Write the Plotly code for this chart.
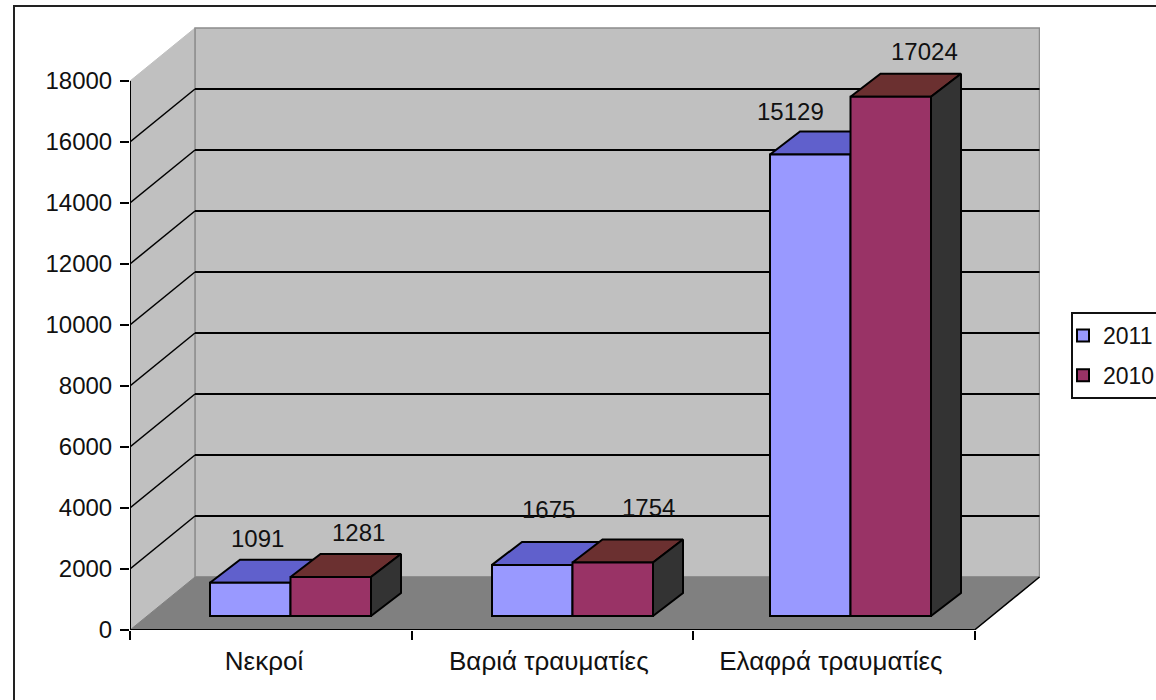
import plotly.graph_objects as go

categories = ["Νεκροί", "Βαριά τραυματίες", "Ελαφρά τραυματίες"]
series_2011 = [1091, 1675, 15129]
series_2010 = [1281, 1754, 17024]
y_ticks = [0, 2000, 4000, 6000, 8000, 10000, 12000, 14000, 16000, 18000]

# geometry of the pseudo-3D box, in pixels
L, R, T, B = 130, 1040, 27, 630
PX_CAT = 281.5
PX_VAL = 549 / 18000
xmax = (R - L) / PX_CAT
ymax = (B - T) / PX_VAL
wall_dx, wall_dy = 65 / PX_CAT, 53 / PX_VAL
bar_dx, bar_dy = 30 / PX_CAT, 23 / PX_VAL
bar_w = 80.5 / PX_CAT
bar_left = [80 / PX_CAT, 80.5 / PX_CAT, 77 / PX_CAT]
bar_base = 14 / PX_VAL
n = len(categories)
BLACK = "#000000"

shapes = []
def poly(xs, ys, fill, line=None, w=1):
    path = "M" + "L".join(f"{x},{y}" for x, y in zip(xs, ys)) + "Z"
    shapes.append(dict(type="path", path=path, xref="x", yref="y", fillcolor=fill, layer="below",
                       line=dict(color=line or fill, width=w)))
def seg(x0, y0, x1, y1, color=BLACK, w=2):
    shapes.append(dict(type="line", x0=x0, y0=y0, x1=x1, y1=y1, xref="x", yref="y", layer="below",
                       line=dict(color=color, width=w)))

top = y_ticks[-1]
poly([wall_dx, n + wall_dx, n + wall_dx, wall_dx], [wall_dy, wall_dy, top + wall_dy, top + wall_dy], "#C0C0C0", "#8C8C8C", 1.5)
poly([0, wall_dx, wall_dx, 0], [0, wall_dy, top + wall_dy, top], "#C0C0C0", "#C0C0C0", 1)
seg(wall_dx, wall_dy, wall_dx, top + wall_dy, "#8C8C8C", 1.5)
poly([0, n, n + wall_dx, wall_dx], [0, 0, wall_dy, wall_dy], "#808080")
for v in y_ticks[1:-1]:
    seg(0, v, wall_dx, v + wall_dy, BLACK, 1.5)
    seg(wall_dx, v + wall_dy, n + wall_dx, v + wall_dy, BLACK, 2)
seg(0, 0, 0, top)
seg(0, 0, n, 0)
seg(n, 0, n + wall_dx, wall_dy, BLACK, 1.5)

def faces(left, values):
    tx, ty, sx, sy = [], [], [], []
    for x, v in zip(left, values):
        t = bar_base + v
        tx += [x, x + bar_w, x + bar_w + bar_dx, x + bar_dx, x, None]
        ty += [t, t, t + bar_dy, t + bar_dy, t, None]
        r = x + bar_w
        sx += [r, r + bar_dx, r + bar_dx, r, r, None]
        sy += [bar_base, bar_base + bar_dy, t + bar_dy, t, bar_base, None]
    return tx, ty, sx, sy

fig = go.Figure()
series = [("2011", series_2011, "#9999FF", "#6060CC", 0.0, 1),
          ("2010", series_2010, "#993366", "#6B3030", bar_w, 3)]
for name, vals, front, topc, shift, z in series:
    left = [i + bar_left[i] + shift for i in range(n)]
    tx, ty, sx, sy = faces(left, vals)
    fig.add_trace(go.Scatter(x=tx, y=ty, fill="toself", fillcolor=topc, mode="lines", zorder=z,
                             line=dict(color=BLACK, width=2), showlegend=False, hoverinfo="skip"))
    fig.add_trace(go.Scatter(x=sx, y=sy, fill="toself", fillcolor="#333333", mode="lines", zorder=z,
                             line=dict(color=BLACK, width=2), showlegend=False, hoverinfo="skip"))
    fig.add_trace(go.Bar(name=name, x=left, y=vals, base=bar_base, width=bar_w, offset=0, zorder=z + 1,
                         legendgroup=name, marker=dict(color=front, line=dict(color=BLACK, width=2))))

# data labels, with hand offsets (px) from the back-centre of each bar top
offs_2011 = [(-23, 21), (-13.5, 32), (-50, 20)]
offs_2010 = [(-2, 21), (5.5, 32), (4, 22)]
ann = []
for (name, vals, front, topc, shift, z), offs in zip(series, (offs_2011, offs_2010)):
    for i, v in enumerate(vals):
        ann.append(dict(x=i + bar_left[i] + shift + bar_w / 2 + bar_dx, y=bar_base + v + bar_dy, text=str(v),
                        showarrow=False, xanchor="center", yanchor="middle",
                        xshift=offs[i][0], yshift=offs[i][1], font=dict(size=24, color="#111111")))

# frame and legend box, pixel-based paper refs
W, H = 1156, 700
pw, ph = R - L, B - T
def px(v): return (v - L) / pw
def py(v): return (B - v) / ph
shapes.append(dict(type="rect", xref="paper", yref="paper", x0=px(14), x1=px(1175), y0=py(6), y1=py(720),
                   line=dict(color="#222222", width=2), layer="below"))
shapes.append(dict(type="rect", xref="paper", yref="paper", x0=px(1072), x1=px(1175), y0=py(313), y1=py(398),
                   line=dict(color="#111111", width=2), layer="above"))

fig.update_layout(
    width=W, height=H, margin=dict(l=L, r=W - R, t=T, b=H - B, pad=0, autoexpand=False),
    paper_bgcolor="white", plot_bgcolor="rgba(0,0,0,0)", barmode="overlay",
    font=dict(family="Liberation Sans", size=24, color="#111111"),
    shapes=shapes, annotations=ann,
    legend=dict(x=px(1063), y=py(314), xanchor="left", yanchor="top", traceorder="grouped", tracegroupgap=7,
                bgcolor="rgba(0,0,0,0)", borderwidth=0, font=dict(size=23)),
    xaxis=dict(range=[0, xmax], showgrid=False, zeroline=False, showline=False,
               tickmode="array", tickvals=[0.476, 1.488, 2.49], ticktext=categories, ticklen=0,
               tickfont=dict(size=26), ticklabelstandoff=13,
               minor=dict(tickmode="array", tickvals=list(range(n + 1)), ticks="outside", ticklen=9, tickwidth=2,
                          tickcolor=BLACK, showgrid=False)),
    yaxis=dict(range=[0, ymax], showgrid=False, zeroline=False, showline=False,
               tickmode="array", tickvals=y_ticks, ticktext=[str(v) for v in y_ticks], ticks="outside",
               ticklen=9, tickwidth=2, tickcolor=BLACK, ticklabelstandoff=3),
)
fig.write_html("out.html", config=dict(displayModeBar=False),
               post_script="document.body.style.margin='0';document.body.style.overflow='hidden';")
